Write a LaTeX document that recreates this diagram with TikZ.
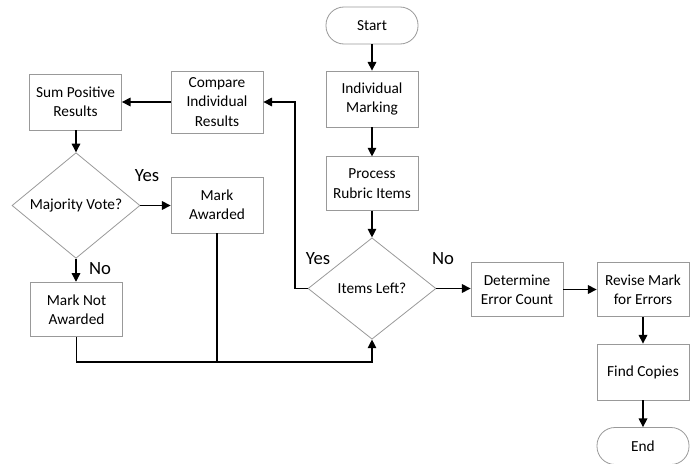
\documentclass[tikz,border=0pt]{standalone}
\usepackage{fontspec}
\setmainfont{Carlito}
\usetikzlibrary{arrows.meta,shapes.geometric}

\begin{document}
\begin{tikzpicture}[
  x=0.75pt,y=-0.75pt,  box/.style={rectangle,draw=black!40,line width=0.6pt,align=center,minimum width=69pt,minimum height=42pt,inner sep=1pt,font=\fontsize{11.5}{14.5}\selectfont},  term/.style={box,minimum height=27.75pt,rounded corners=13.5pt},  decision/.style={diamond,draw=black!40,line width=0.6pt,inner sep=0pt,minimum width=96pt,minimum height=76pt,font=\fontsize{11.5}{14.5}\selectfont},  answer/.style={font=\fontsize{14}{16}\selectfont,inner sep=0pt},  arr/.style={line width=0.9pt,-{Triangle[length=6.5pt,width=6.5pt]}},  line/.style={line width=0.9pt}
]
  \useasboundingbox (0,0) rectangle (697,464);
  \node[term] (start) at (372,25.5) {Start};
  \node[box] (mark) at (372,99) {Individual\\Marking};
  \node[box,minimum height=40pt] (rubric) at (372,183.5) {Process\\Rubric Items};
  \node[decision] (items) at (372,288.5) {Items Left?};
  \node[box,minimum height=46.5pt] (compare) at (217,102) {Compare\\Individual\\Results};
  \node[box] (sum) at (75.5,102) {Sum Positive\\Results};
  \node[decision] (vote) at (76,205.5) {Majority Vote?};
  \node[box] (awarded) at (217,205) {Mark\\Awarded};
  \node[box,minimum height=41pt] (notawarded) at (76.5,309.5) {Mark Not\\Awarded};
  \node[box,minimum height=41pt] (errors) at (517,289.5) {Determine\\Error Count};
  \node[box,minimum height=41pt] (revise) at (643,289.5) {Revise Mark\\for Errors};
  \node[box] (copies) at (643,372) {Find Copies};
  \node[term] (end) at (643,446) {End};
  \node[answer] (yesitems) at (318,259) {Yes};
  \node[answer] (noitems) at (443,259) {No};
  \node[answer] (yesvote) at (147,176) {Yes};
  \node[answer] (novote) at (100,269) {No};
  \coordinate (back) at (295,288.5);
  \coordinate (base) at (76.5,362);
  \draw[arr] (start) -- (mark);
  \draw[arr] (mark) -- (rubric);
  \draw[arr] (rubric) -- (items);
  \draw[arr] (items.west) -- (back) |- (compare.east);
  \draw[arr] (compare) -- (sum);
  \draw[arr] (sum.south -| vote.north) -- (vote.north);
  \draw[arr] (vote.east) -- (awarded.west |- vote.east);
  \draw[arr] (vote.south) -- (notawarded.north -| vote.south);
  \draw[arr] (notawarded.south) -- (base) -| (items.south);
  \draw[line] (awarded.south) -- (awarded.south |- base);
  \draw[arr] (items.east) -- (errors.west |- items.east);
  \draw[arr] (errors) -- (revise);
  \draw[arr] (revise) -- (copies);
  \draw[arr] (copies) -- (end);
\end{tikzpicture}
\end{document}
